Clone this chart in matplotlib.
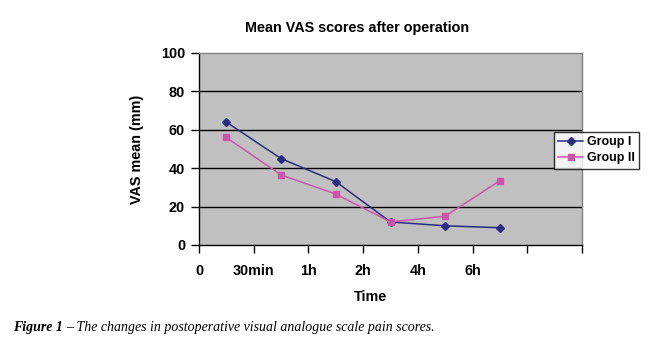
import matplotlib
matplotlib.use("Agg")
import matplotlib.pyplot as plt

# data
time_labels = ["0", "30min", "1h", "2h", "4h", "6h"]
group1 = [64, 45, 33, 12, 10, 9]
group2 = [56, 36.5, 26.5, 12, 15, 33.5]
y_ticks = [0, 20, 40, 60, 80, 100]

plt.rcParams['font.family'] = ['Liberation Sans', 'DejaVu Sans']

fig = plt.figure(figsize=(6.54, 3.45), dpi=100)
ax = fig.add_axes([199/654, 100/345, 383/654, 192/345])
ax.set_facecolor('#c0c0c0')

# points sit between the category ticks, Excel style
xs = [i + 0.5 for i in range(len(group1))]
ax.plot(xs, group1, color='#2b2b7f', marker='D', markersize=4.5, lw=1.1, label='Group I')
ax.plot(xs, group2, color='#cc55aa', marker='s', markersize=5, lw=1.1, label='Group II')

ax.set_xlim(0, 7)
ax.set_ylim(0, 100)
ax.set_xticks(range(8))
ax.set_xticklabels(time_labels + ["", ""], fontsize=10.4, fontweight='bold')
ax.set_yticks(y_ticks)
ax.set_yticklabels([str(v) for v in y_ticks], fontsize=10.4, fontweight='bold')
ax.tick_params(axis='x', length=6, width=1, pad=8, direction='out')
ax.tick_params(axis='y', length=6, width=1, pad=4, direction='out')

for v in y_ticks[1:-1]:
    ax.axhline(v, color='black', lw=1, zorder=1)

for side in ['left', 'bottom']:
    ax.spines[side].set_color('black')
    ax.spines[side].set_linewidth(1)
for side in ['top', 'right']:
    ax.spines[side].set_color('#808080')
    ax.spines[side].set_linewidth(1)

ax.set_ylabel("VAS mean (mm)", fontsize=10.4, fontweight='bold', labelpad=12)

fig.text(357/654, 1 - 28/345, "Mean VAS scores after operation",
         ha='center', va='center', fontsize=10.4, fontweight='bold')
fig.text(370/654, 1 - 297/345, "Time", ha='center', va='center',
         fontsize=10.4, fontweight='bold')

leg = ax.legend(loc='upper left', bbox_to_anchor=(554/654, 1 - 132/345),
                bbox_transform=fig.transFigure,
                prop={'weight': 'bold', 'size': 9}, frameon=True, fancybox=False,
                borderpad=0.35, labelspacing=0.3, handlelength=2.0,
                handletextpad=0.3, borderaxespad=0)
leg.get_frame().set_edgecolor('black')
leg.get_frame().set_linewidth(1)
leg.get_frame().set_facecolor('white')

serif = ['Liberation Serif', 'DejaVu Serif']
cap = fig.text(13/654, 1 - 327/345, "Figure 1", family=serif, style='italic',
               fontweight='bold', fontsize=10, va='center', ha='left')
fig.canvas.draw()
bb = cap.get_window_extent()
fig.text(bb.x1 / 654 + 3/654, 1 - 327/345,
         "\u2013 The changes in postoperative visual analogue scale pain scores.",
         family=serif, style='italic', fontsize=10, va='center', ha='left')

fig.savefig("out.png", dpi=100)
